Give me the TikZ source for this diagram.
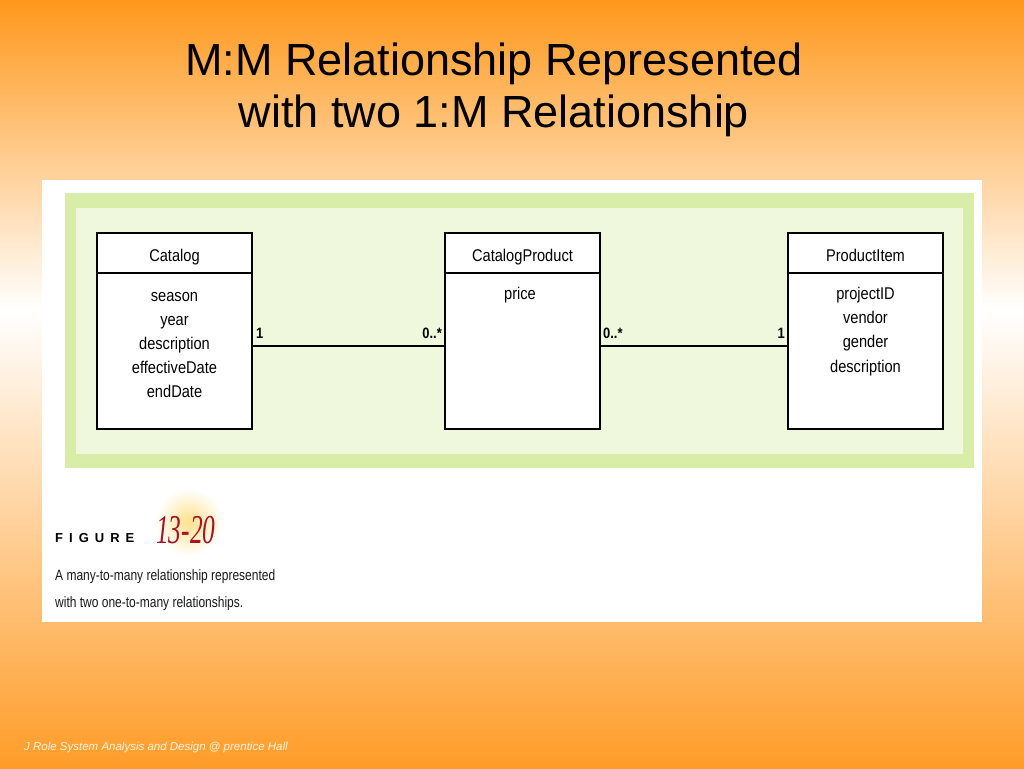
\documentclass[tikz,border=0pt]{standalone}
\usepackage{fontspec}
\setmainfont{Liberation Sans}
\newfontfamily\umlfont[FakeStretch=0.86]{Liberation Sans}
\newfontfamily\capfont[FakeStretch=0.8]{Liberation Sans}
\newfontfamily\numfont[FakeStretch=0.62]{Liberation Serif}
\usetikzlibrary{calc}
\definecolor{orangeA}{RGB}{255,152,28}
\definecolor{orangeB}{RGB}{255,156,40}
\definecolor{greenOut}{RGB}{216,237,168}
\definecolor{greenIn}{RGB}{239,248,221}
\definecolor{numred}{RGB}{165,20,35}
\definecolor{glow}{RGB}{255,224,140}
\definecolor{foot}{RGB}{255,244,228}
\tikzset{
  umlbox/.style={draw=black,line width=2.2pt,fill=white,inner sep=0pt,minimum width=155pt,minimum height=196pt},
  conn/.style={draw=black,line width=2.2pt},
  divider/.style={draw=black,line width=2.2pt},
  umltitle/.style={anchor=base,inner sep=0pt,font=\umlfont\fontsize{17}{20}\selectfont},
  umlattr/.style={anchor=base,inner sep=0pt,font=\umlfont\fontsize{17}{20}\selectfont},
  mult/.style={inner sep=0pt,font=\umlfont\bfseries\fontsize{15}{18}\selectfont},
  title/.style={anchor=base,inner sep=0pt,font=\fontsize{45}{52}\selectfont},
  captext/.style={anchor=base west,inner sep=0pt,text=black!90,font=\capfont\fontsize{15}{18}\selectfont},
}
\begin{document}
\begin{tikzpicture}[x=1pt,y=-1pt]
\useasboundingbox (0,0) rectangle (1024,768);
% background gradient
\shade[top color=orangeA,bottom color=white] (0,0) rectangle (1024,310);
\shade[top color=white,bottom color=orangeB] (0,310) rectangle (1024,768);
% title
\node[title] (t1) at (494,75) {M:M Relationship Represented};
\node[title] (t2) at (494,127) {with two 1:M Relationship};
% white panel
\fill[white] (42,180) rectangle (982,622);
\fill[greenOut] (65,193) rectangle (974,468);
\fill[greenIn] (76,208) rectangle (963,454);
% classes
\node[umlbox] (catalog) at (174.5,331) {};
\node[umlbox] (catprod) at (522.5,331) {};
\node[umlbox] (prod) at (865.5,331) {};
\coordinate (hdr) at (0,273);
\coordinate (mid) at (0,346);
\draw[divider] (catalog.west |- hdr) -- (catalog.east |- hdr);
\draw[divider] (catprod.west |- hdr) -- (catprod.east |- hdr);
\draw[divider] (prod.west |- hdr) -- (prod.east |- hdr);
% titles
\node[umltitle] (catT) at (174.5,261) {Catalog};
\node[umltitle] (cpT) at (522.5,261) {CatalogProduct};
\node[umltitle] (piT) at (865.5,261) {ProductItem};
% attributes
\node[umlattr] (a1) at (174.5,301) {season};
\node[umlattr] (a2) at (174.5,325) {year};
\node[umlattr] (a3) at (174.5,349) {description};
\node[umlattr] (a4) at (174.5,373) {effectiveDate};
\node[umlattr] (a5) at (174.5,397) {endDate};
\node[umlattr] (b1) at (520,299) {price};
\node[umlattr] (c1) at (865.5,299) {projectID};
\node[umlattr] (c2) at (865.5,323) {vendor};
\node[umlattr] (c3) at (865.5,347) {gender};
\node[umlattr] (c4) at (865.5,372) {description};
% connectors
\draw[conn] (catalog.east |- mid) -- (catprod.west |- mid);
\draw[conn] (catprod.east |- mid) -- (prod.west |- mid);
% multiplicities
\node[mult,anchor=base west] (m1) at (256,338) {1};
\node[mult,anchor=base east] (m2) at (442,338) {0..*};
\node[mult,anchor=base west] (m3) at (603,338) {0..*};
\node[mult,anchor=base east] (m4) at (785,338) {1};
% figure caption
\shade[inner color=glow,outer color=white] (189,522) circle (34);
\node[anchor=base west,inner sep=0pt,font=\bfseries\fontsize{13}{15}\selectfont] (fig) at (55,542) {F\hspace{6pt}I\hspace{6pt}G\hspace{6pt}U\hspace{6pt}R\hspace{6pt}E};
\node[anchor=base west,inner sep=0pt,text=numred,font=\numfont\itshape\fontsize{41}{44}\selectfont] (num) at (156,543) {13-20};
\node[captext] (cap1) at (55,580) {A many-to-many relationship represented};
\node[captext] (cap2) at (55,607) {with two one-to-many relationships.};
% footer
\node[anchor=base west,inner sep=0pt,text=foot,font=\itshape\fontsize{11.5}{13}\selectfont] (footer) at (24,750) {J Role System Analysis and Design @ prentice Hall};
\end{tikzpicture}
\end{document}
